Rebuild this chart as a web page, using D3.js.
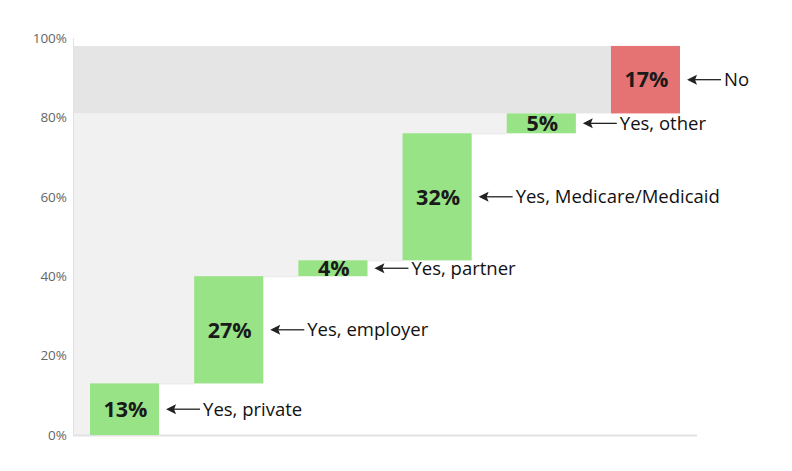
<!DOCTYPE html>
<html>
<head>
<meta charset="utf-8">
<script src="https://cdn.jsdelivr.net/npm/d3@7"></script>
<style>
  body { margin: 0; background: #fff; }
  svg { display: block; }
</style>
</head>
<body>
<svg id="chart"></svg>
<script>
// waterfall data, share of respondents
var categories = ["Yes, private", "Yes, employer", "Yes, partner", "Yes, Medicare/Medicaid", "Yes, other", "No"];
var values = [13, 27, 4, 32, 5, 17];
var kinds = ["yes", "yes", "yes", "yes", "yes", "no"];
var yTicks = [0, 20, 40, 60, 80, 100];

var W = 792, H = 471;
var margin = { top: 38, right: 95, bottom: 36, left: 73 };
var w = W - margin.left - margin.right,
    h = H - margin.top - margin.bottom;

var svg = d3.select('#chart').attr('width', W).attr('height', H);
var g = svg.append('g').attr('transform', `translate(${margin.left}, ${margin.top})`);

// running totals
var rows = [];
var run = 0;
categories.forEach(function(c, i) {
  rows.push({ cat: c, v: values[i], kind: kinds[i], start: run, end: run + values[i] });
  run += values[i];
});
var yesRows = rows.filter(d => d.kind === 'yes');
var yesTotal = d3.sum(yesRows, d => d.v);

var x = d3.scaleBand()
  .domain(categories)
  .range([0, 624])
  .paddingInner(0.337)
  .paddingOuter(0.163);

var y = d3.scaleLinear()
  .domain([0, 100])
  .range([h, 0]);

var right = d => x(d.cat) + x.bandwidth();

// light stepped background under the "yes" total (one polygon, no seams)
var pts = [[0, y(yesTotal)], [right(yesRows[yesRows.length - 1]), y(yesTotal)]];
for (var i = yesRows.length - 1; i >= 0; i--) {
  var x0 = i === 0 ? 0 : right(yesRows[i - 1]);
  pts.push([right(yesRows[i]), y(yesRows[i].start)]);
  pts.push([x0, y(yesRows[i].start)]);
}
g.append('path')
  .attr('d', d3.line()(pts) + 'Z')
  .attr('fill', '#f1f1f1');

yesRows.forEach(function(d, i) {
  if (i === 0) return;
  g.append('line')
    .attr('x1', right(yesRows[i - 1])).attr('x2', x(d.cat))
    .attr('y1', y(d.start) + 0.5).attr('y2', y(d.start) + 0.5)
    .attr('stroke', '#e6e6e6');
});

// darker band for the "no" share
var noRow = rows.filter(d => d.kind === 'no')[0];
g.append('rect')
  .attr('x', 0)
  .attr('y', y(noRow.end))
  .attr('width', x(noRow.cat))
  .attr('height', y(noRow.start) - y(noRow.end))
  .attr('fill', '#e5e5e5');

// axes
g.append('line')
  .attr('x1', 0.5).attr('x2', 0.5)
  .attr('y1', 0).attr('y2', h)
  .attr('stroke', '#e2e2e2');
g.append('line')
  .attr('x1', 0).attr('x2', 624)
  .attr('y1', h + 0.5).attr('y2', h + 0.5)
  .attr('stroke', '#e2e2e2')
  .attr('stroke-width', 2);

g.selectAll('.y_tick')
  .data(yTicks)
  .join('text')
  .attr('class', 'y_tick')
  .attr('x', -6)
  .attr('y', d => y(d))
  .attr('dy', '0.35em')
  .attr('text-anchor', 'end')
  .style('font-family', 'Open Sans, sans-serif')
  .style('font-size', '13.5px')
  .style('fill', '#666')
  .text(d => d + '%');

// bars
g.selectAll('.bar')
  .data(rows)
  .join('rect')
  .attr('class', 'bar')
  .attr('x', d => x(d.cat))
  .attr('y', d => y(d.end))
  .attr('width', x.bandwidth())
  .attr('height', d => y(d.start) - y(d.end))
  .attr('fill', d => d.kind === 'no' ? '#e57373' : '#97e386');

// value labels
g.selectAll('.val')
  .data(rows)
  .join('text')
  .attr('class', 'val')
  .attr('x', d => x(d.cat) + x.bandwidth() / 2 + 1)
  .attr('y', d => (y(d.start) + y(d.end)) / 2)
  .attr('dy', '0.36em')
  .attr('text-anchor', 'middle')
  .style('font-family', 'Open Sans, sans-serif')
  .style('font-size', '21.5px')
  .style('font-weight', 'bold')
  .style('fill', '#1a1a1a')
  .text(d => d.v + '%');

// arrows + category names
var ann = g.selectAll('.ann')
  .data(rows)
  .join('g')
  .attr('class', 'ann')
  .attr('transform', d => `translate(${right(d)}, ${(y(d.start) + y(d.end)) / 2})`);

ann.append('line')
  .attr('x1', 14).attr('x2', 41)
  .attr('y1', 0).attr('y2', 0)
  .attr('stroke', '#222')
  .attr('stroke-width', 1.3);

ann.append('path')
  .attr('d', 'M7,0 L17,-5 L15,0 L17,5 Z')
  .attr('fill', '#222');

ann.append('text')
  .attr('x', 44)
  .attr('dy', '0.36em')
  .style('font-family', 'Open Sans, sans-serif')
  .style('font-size', '18.5px')
  .style('fill', '#111')
  .text(d => d.cat);
</script>
</body>
</html>
